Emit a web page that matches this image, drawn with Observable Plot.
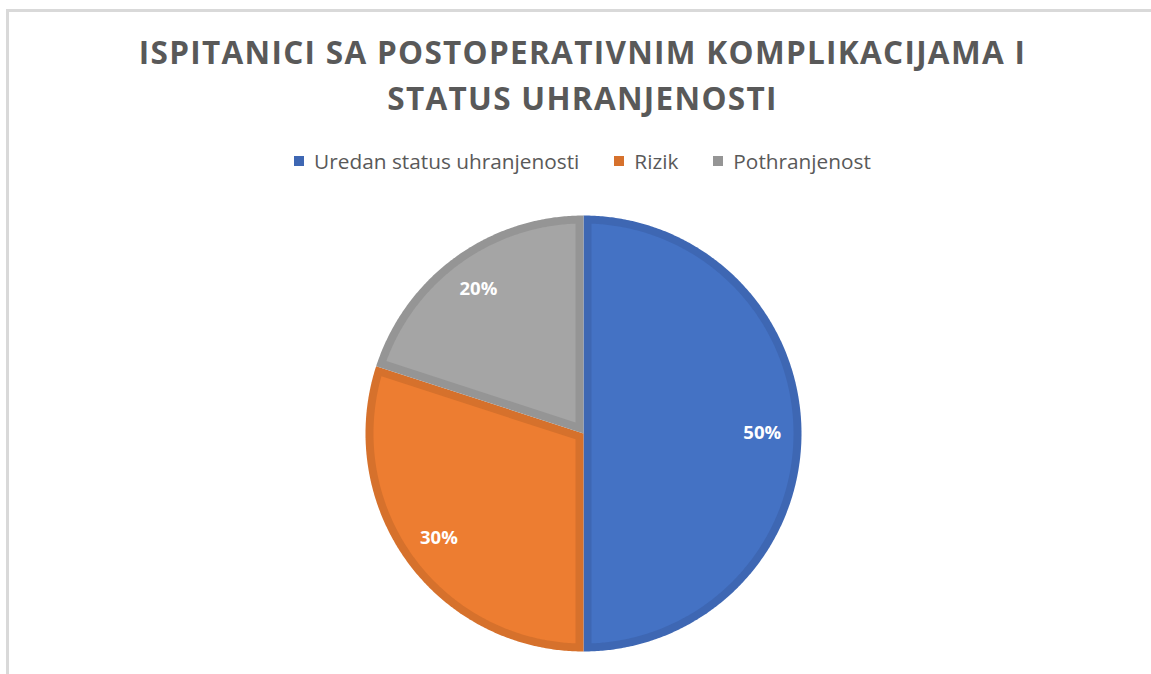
<!DOCTYPE html>
<html>
<head>
<meta charset="utf-8">
<script src="https://cdn.jsdelivr.net/npm/d3@7"></script>
<script src="https://cdn.jsdelivr.net/npm/@observablehq/plot@0.6"></script>
<style>
  html, body { margin: 0; padding: 0; background: #fff; overflow: hidden; width: 1151px; height: 674px; }
  #frame { position: absolute; left: 6px; top: 9px; width: 1200px; height: 700px; border: 3px solid #D9D9D9; box-sizing: border-box; }
  #title { position: absolute; left: 0; width: 1165px; top: 29px; text-align: center; font-family: "Open Sans", sans-serif; font-weight: 700; font-size: 31.5px; line-height: 46px; color: #595959; letter-spacing: 1.3px; }
  #legend { position: absolute; left: 0; width: 1165px; top: 147px; display: flex; justify-content: center; font-family: "Open Sans", sans-serif; font-size: 20.8px; color: #595959; }
  .item { display: flex; align-items: center; margin: 0 17.5px; }
  .sw { width: 10px; height: 10px; margin-right: 10px; }
  #chart { position: absolute; left: 0; top: 205px; }
</style>
</head>
<body>
<div id="frame"></div>
<div id="title">ISPITANICI SA POSTOPERATIVNIM KOMPLIKACIJAMA I<br>STATUS UHRANJENOSTI</div>
<div id="legend"></div>
<div id="chart"></div>
<script>
const categories = ["Uredan status uhranjenosti", "Rizik", "Pothranjenost"];
const values = [50, 30, 20];
const labels = ["50%", "30%", "20%"];
const fillColors = ["#4472C4", "#ED7D31", "#A5A5A5"];
const borderColors = ["#3E67B3", "#D6712C", "#959595"];

// legend
const legend = document.getElementById("legend");
categories.forEach((c, i) => {
  const it = document.createElement("div");
  it.className = "item";
  const sw = document.createElement("div");
  sw.className = "sw";
  sw.style.background = borderColors[i];
  const t = document.createElement("span");
  t.textContent = c;
  it.appendChild(sw); it.appendChild(t);
  legend.appendChild(it);
});

// geometry (data units = pixels through identity-like linear scales)
const R = 218, W = 8;
const total = d3.sum(values);
const rad = Math.PI / 180;
const u = (deg) => [Math.sin(deg * rad), Math.cos(deg * rad)];
let start = 0;
const outer = [], inner = [], labelPts = [];
values.forEach((v, i) => {
  const a0 = start, a1 = start + v / total * 360;
  start = a1;
  const cat = categories[i];
  outer.push({cat, x: 0, y: 0});
  for (let a = a0; a <= a1 + 1e-9; a += 0.5) {
    const [sx, sy] = u(a); outer.push({cat, x: R * sx, y: R * sy});
  }
  const [ex, ey] = u(a1); outer.push({cat, x: R * ex, y: R * ey});
  const rho = R - W;
  const d = Math.asin(W / rho) / rad;
  const mid = (a0 + a1) / 2, half = (a1 - a0) / 2;
  const t = W / Math.sin(half * rad);
  const [mx, my] = u(mid);
  inner.push({cat, x: t * mx, y: t * my});
  const b0 = a0 + d, b1 = a1 - d;
  for (let a = b0; a <= b1 + 1e-9; a += 0.5) {
    const [sx, sy] = u(a); inner.push({cat, x: rho * sx, y: rho * sy});
  }
  const [fx, fy] = u(b1); inner.push({cat, x: rho * fx, y: rho * fy});
  const [lx, ly] = u(mid);
  labelPts.push({label: labels[i], x: 0.82 * R * lx, y: 0.82 * R * ly});
});

const marks = [];
categories.forEach((c, i) => {
  marks.push(Plot.line(outer.filter(d => d.cat === c), {x: "x", y: "y", fill: borderColors[i], stroke: "none"}));
  marks.push(Plot.line(inner.filter(d => d.cat === c), {x: "x", y: "y", fill: fillColors[i], stroke: "none"}));
});
marks.push(Plot.text(labelPts, {x: "x", y: "y", text: "label", fill: "white", fontWeight: "bold", fontSize: 18.5, fontFamily: "Open Sans"}));

const H = 460, cy = 228, cx = 583;
const plot = Plot.plot({
  width: 1151,
  height: H,
  margin: 0,
  x: {domain: [-cx, 1151 - cx], range: [0, 1151], axis: null},
  y: {domain: [-(H - cy), cy], range: [H, 0], axis: null},
  style: {background: "transparent", fontFamily: "Open Sans"},
  marks
});
document.getElementById("chart").appendChild(plot);
</script>
</body>
</html>
